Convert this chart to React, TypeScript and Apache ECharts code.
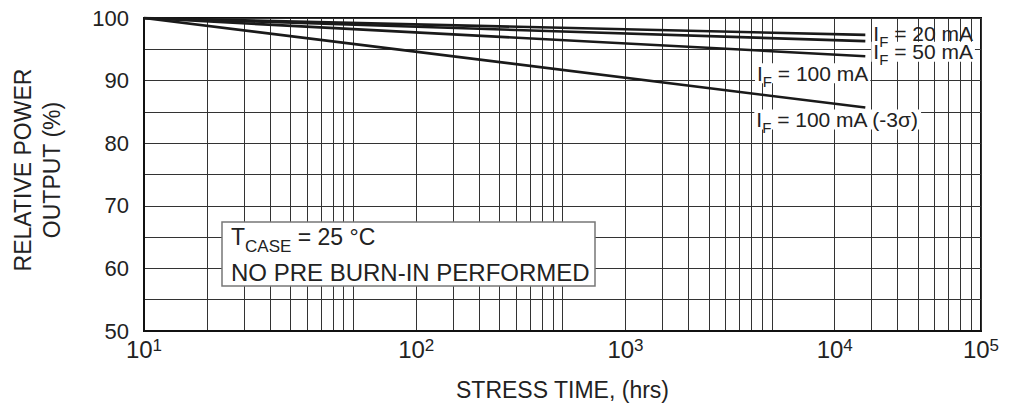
import React, { useEffect, useRef } from 'react';
import * as echarts from 'echarts';

// ---- data ----
const stressHours = [10, 28000];
const output20mA = [100, 97.3];
const output50mA = [100, 96.3];
const output100mA = [100, 93.9];
const output100mA3s = [100, 85.7];

const seriesNames = ['IF = 20 mA', 'IF = 50 mA', 'IF = 100 mA', 'IF = 100 mA (-3σ)'];
const seriesTails = ['20 mA', '50 mA', '100 mA', '100 mA (-3σ)'];

// vertical grid lines (log decades 10 .. 100000)
const gridMultipliers = [1, 2, 3, 4, 5, 6, 7, 8, 9];
const gridDecades = [10, 100, 1000, 10000];
const xGridValues: number[] = [];
gridDecades.forEach((d) => gridMultipliers.forEach((m) => xGridValues.push(d * m)));
xGridValues.push(100000);

// x tick labels, as placed in the reference
const xLabelValues = [10, 200, 2000, 20000, 100000];
const xLabelExponents = ['1', '2', '3', '4', '5'];

const yMin = 50;
const yMax = 100;
const yStep = 5;

const FONT = '"Liberation Sans", Arial, Helvetica, sans-serif';
const TXT = '#222';

let measureCtx: CanvasRenderingContext2D | null = null;
function textWidth(s: string, size: number): number {
  if (!measureCtx) {
    const c = document.createElement('canvas');
    measureCtx = c.getContext('2d');
  }
  if (!measureCtx) return s.length * size * 0.55;
  measureCtx.font = size + 'px ' + FONT;
  return measureCtx.measureText(s).width;
}

type Part = { text: string; size: number; dy: number };

// a line of text made of pieces (main text + lowered subscript), anchored at (x, y) = centre of main text
function pieceLine(x: number, y: number, parts: Part[], align: 'left' | 'right', bg: boolean, z: number) {
  const widths = parts.map((p) => textWidth(p.text, p.size));
  const total = widths.reduce((a, b) => a + b, 0);
  let cx = align === 'left' ? x : x - total;
  const els: any[] = [];
  if (bg) {
    els.push({
      type: 'rect',
      z,
      shape: { x: cx - 2, y: y - 10, width: total + 4, height: 20 },
      style: { fill: '#fff' },
    });
  }
  parts.forEach((p, i) => {
    els.push({
      type: 'text',
      z: z + 1,
      x: cx,
      y: y + p.dy,
      style: {
        text: p.text,
        fontSize: p.size,
        fontFamily: FONT,
        fill: TXT,
        align: 'left',
        verticalAlign: 'middle',
        lineHeight: Math.round(p.size * 0.72),
      },
    });
    cx += widths[i];
  });
  return els;
}

export default function App() {
  const ref = useRef<HTMLDivElement>(null);

  useEffect(() => {
    document.body.style.margin = '0';
    if (!ref.current) return;
    const chart = echarts.init(ref.current, undefined, { renderer: 'svg' });

    const mk = (name: string, vals: number[]) => ({
      name,
      type: 'line',
      data: stressHours.map((x, i) => [x, vals[i]]),
      symbol: 'none',
      lineStyle: { color: '#1a1a1a', width: 2.6 },
      z: 5,
    });

    const option: any = {
      animation: false,
      backgroundColor: '#ffffff',
      grid: {
        left: 143,
        right: 29,
        top: 18,
        bottom: 75,
        show: true,
        borderColor: '#111',
        borderWidth: 2,
        backgroundColor: 'transparent',
      },
      xAxis: {
        type: 'log',
        logBase: 10,
        min: 10,
        max: 100000,
        axisLine: { show: true, onZero: false, lineStyle: { color: '#111', width: 2 } },
        axisTick: { show: false, customValues: xGridValues },
        splitLine: { show: true, lineStyle: { color: '#333', width: 1 } },
        axisLabel: {
          customValues: xLabelValues,
          margin: 6,
          formatter: (v: number) => {
            let idx = -1;
            xLabelValues.forEach((lv, i) => {
              if (Math.abs(Math.log10(v) - Math.log10(lv)) < 1e-6) idx = i;
            });
            if (idx < 0) return '';
            return '{b|10}{s|' + xLabelExponents[idx] + '}';
          },
          rich: {
            b: { fontSize: 24, fontFamily: FONT, color: TXT },
            s: { fontSize: 17, fontFamily: FONT, color: TXT, verticalAlign: 'top' },
          },
        },
        name: 'STRESS TIME, (hrs)',
        nameLocation: 'middle',
        nameGap: 47,
        nameTextStyle: { fontSize: 23, fontFamily: FONT, color: TXT },
      },
      yAxis: {
        type: 'value',
        min: yMin,
        max: yMax,
        interval: yStep,
        axisLine: { show: true, lineStyle: { color: '#111', width: 2 } },
        axisTick: { show: false },
        splitLine: { show: true, lineStyle: { color: '#333', width: 1 } },
        axisLabel: {
          formatter: (v: number) => (v % 10 === 0 ? String(v) : ''),
          fontSize: 22,
          fontFamily: FONT,
          color: TXT,
          margin: 15,
        },
        name: 'RELATIVE POWER\nOUTPUT (%)',
        nameLocation: 'middle',
        nameRotate: 90,
        nameGap: 78,
        nameTextStyle: {
          fontSize: 23,
          lineHeight: 29,
          fontFamily: FONT,
          color: TXT,
          align: 'center',
          padding: [0, 0, 0, 9],
        },
      },
      series: [
        mk(seriesNames[0], output20mA),
        mk(seriesNames[1], output50mA),
        mk(seriesNames[2], output100mA),
        mk(seriesNames[3], output100mA3s),
      ],
    };

    chart.setOption(option);

    const last = stressHours.length - 1;
    const px = (vals: number[]) =>
      chart.convertToPixel({ gridIndex: 0 }, [stressHours[last], vals[last]]) as number[];
    const p20 = px(output20mA);
    const p50 = px(output50mA);
    const p100 = px(output100mA);
    const p3s = px(output100mA3s);

    const ifParts = (tail: string): Part[] => [
      { text: 'I', size: 21, dy: 0 },
      { text: 'F', size: 15, dy: 8 },
      { text: ' = ' + tail, size: 21, dy: 0 },
    ];

    const graphic: any[] = [
      ...pieceLine(p20[0] + 8, p20[1] - 1.5, ifParts(seriesTails[0]), 'left', false, 24),
      ...pieceLine(p50[0] + 8, p50[1] + 10.5, ifParts(seriesTails[1]), 'left', true, 20),
      ...pieceLine(p100[0] + 3, p100[1] + 17, ifParts(seriesTails[2]), 'right', true, 20),
      ...pieceLine(p3s[0] - 109, p3s[1] + 12, ifParts(seriesTails[3]), 'left', true, 20),
      {
        type: 'rect',
        z: 30,
        shape: { x: 222, y: 222, width: 373, height: 64 },
        style: { fill: '#fff', stroke: '#777', lineWidth: 1.5 },
      },
      ...pieceLine(
        231,
        237,
        [
          { text: 'T', size: 23, dy: 0 },
          { text: 'CASE', size: 17, dy: 9 },
          { text: ' = 25 °C', size: 23, dy: 0 },
        ],
        'left',
        false,
        31
      ),
      ...pieceLine(231, 272.5, [{ text: 'NO PRE BURN-IN PERFORMED', size: 24, dy: 0 }], 'left', false, 31),
    ];

    chart.setOption({ graphic });

    return () => chart.dispose();
  }, []);

  return <div ref={ref} style={{ width: 1010, height: 406 }} />;
}
